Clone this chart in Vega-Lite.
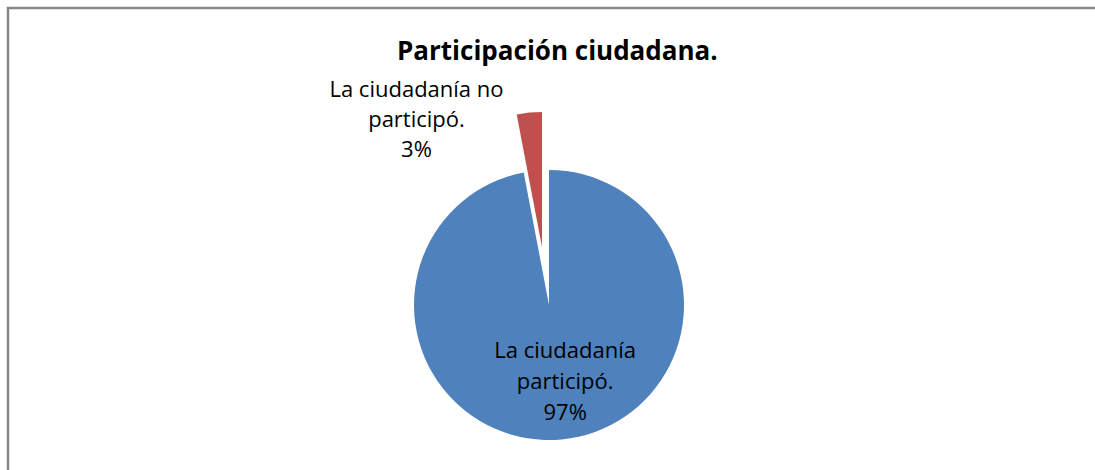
{
  "$schema": "https://vega.github.io/schema/vega-lite/v6.json",
  "width": 1100,
  "height": 594,
  "autosize": {"type": "none"},
  "padding": {"left": 8, "top": 8, "right": 0, "bottom": 0},
  "background": "white",
  "view": {"stroke": "#868686", "strokeWidth": 2.5},
  "config": {"font": "Open Sans"},
  "title": {"text": "Participación ciudadana.", "fontSize": 26, "font": "Open Sans", "fontWeight": "bold", "color": "#000000", "anchor": "start", "dx": 389, "offset": -57},
  "data": {"values": [
    {"cat": "La ciudadanía participó.", "label": "La ciudadanía\nparticipó.\n97%", "value": 97, "order": 1},
    {"cat": "La ciudadanía no participó.", "label": "La ciudadanía no\nparticipó.\n3%", "value": 3, "order": 2}
  ]},
  "encoding": {
    "theta": {"field": "value", "type": "quantitative", "stack": true},
    "order": {"field": "order", "type": "quantitative"}
  },
  "layer": [
    {
      "mark": {"type": "arc", "radius": 135, "xOffset": -9, "yOffset": 0},
      "encoding": {
        "color": {"field": "cat", "type": "nominal", "scale": {"domain": ["La ciudadanía participó.", "La ciudadanía no participó."], "range": ["#4f81bd", "#c0504d"]}, "legend": null},
        "opacity": {"condition": {"test": "datum.order == 2", "value": 0}, "value": 1}
      }
    },
    {
      "mark": {"type": "arc", "radius": 135, "xOffset": -16, "yOffset": -58},
      "encoding": {
        "color": {"field": "cat", "type": "nominal", "scale": {"domain": ["La ciudadanía participó.", "La ciudadanía no participó."], "range": ["#4f81bd", "#c0504d"]}, "legend": null},
        "opacity": {"condition": {"test": "datum.order == 1", "value": 0}, "value": 1}
      }
    },
    {
      "mark": {"type": "text", "radius": 76, "dx": 0, "dy": -23, "fontSize": 22, "font": "Open Sans", "color": "#000000", "lineBreak": "\n", "lineHeight": 31, "align": "center", "baseline": "alphabetic"},
      "encoding": {
        "text": {"field": "label"},
        "opacity": {"condition": {"test": "datum.order == 2", "value": 0}, "value": 1}
      }
    },
    {
      "mark": {"type": "text", "radius": 186, "dx": -124, "dy": -23, "fontSize": 22, "font": "Open Sans", "color": "#000000", "lineBreak": "\n", "lineHeight": 30, "align": "center", "baseline": "alphabetic"},
      "encoding": {
        "text": {"field": "label"},
        "opacity": {"condition": {"test": "datum.order == 1", "value": 0}, "value": 1}
      }
    }
  ]
}
